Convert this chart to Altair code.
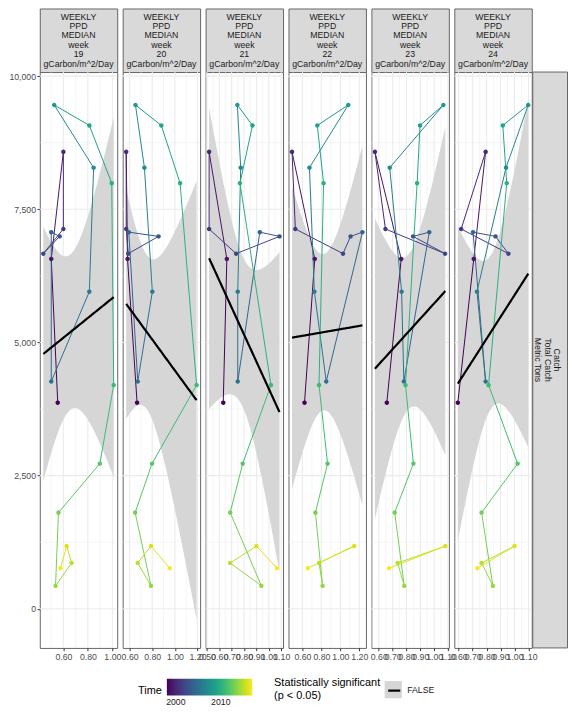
import altair as alt
import numpy as np
import pandas as pd

FONT = "Liberation Sans"

# ---------------- data ----------------
years = list(range(1998, 2018))
catch = [3869, 6568, 8578, 7130, 6667, 6991, 7070, 4266, 5953, 8281,
         9458, 9074, 7990, 4200, 2725, 1806, 430, 860, 1177, 761]

weeks = [19, 20, 21, 22, 23, 24]
ppd_19 = [0.554, 0.501, 0.600, 0.600, 0.436, 0.570, 0.501, 0.501, 0.812, 0.847,
          0.525, 0.812, 0.995, 1.011, 0.898, 0.560, 0.536, 0.667, 0.627, 0.576]
ppd_20 = [0.666, 0.582, 0.570, 0.570, 0.588, 0.856, 0.593, 0.672, 0.801, 0.731,
          0.652, 0.880, 1.046, 1.192, 0.798, 0.649, 0.789, 0.672, 0.789, 0.955]
ppd_21 = [0.632, 0.661, 0.518, 0.518, 0.736, 1.086, 0.927, 0.749, 0.749, 0.773,
          0.746, 0.868, 0.767, 1.017, 0.789, 0.688, 0.940, 0.688, 0.900, 1.065]
ppd_22 = [0.622, 0.730, 0.490, 0.525, 1.028, 1.108, 1.233, 0.851, 0.726, 0.674,
          1.084, 0.757, 0.823, 0.775, 0.865, 0.737, 0.813, 0.775, 1.146, 0.657]
ppd_23 = [0.658, 0.762, 0.572, 0.648, 1.079, 0.848, 0.965, 0.781, 0.765, 0.679,
          1.067, 0.898, 0.877, 0.793, 0.850, 0.715, 0.784, 0.736, 1.081, 0.674]
ppd_24 = [0.594, 0.708, 0.793, 0.618, 0.956, 0.864, 0.703, 0.793, 0.731, 0.939,
          1.098, 0.916, 0.944, 0.814, 1.022, 0.764, 0.845, 0.764, 1.000, 0.734]
ppd = {19: ppd_19, 20: ppd_20, 21: ppd_21, 22: ppd_22, 23: ppd_23, 24: ppd_24}

x_ticks = {
    19: [0.6, 0.8, 1.0],
    20: [0.6, 0.8, 1.0, 1.2],
    21: [0.5, 0.6, 0.7, 0.8, 0.9, 1.0, 1.1],
    22: [0.6, 0.8, 1.0, 1.2],
    23: [0.6, 0.7, 0.8, 0.9, 1.0, 1.1],
    24: [0.6, 0.7, 0.8, 0.9, 1.0, 1.1],
}
x_minor_step = {19: 0.1, 20: 0.1, 21: 0.05, 22: 0.1, 23: 0.05, 24: 0.05}

y_ticks = [0, 2500, 5000, 7500, 10000]
y_minor = [1250, 3750, 6250, 8750]
y_domain = [-735, 10076]

strip_lines = ["WEEKLY", "PPD", "MEDIAN", "week", "{wk}", "gCarbon/m^2/Day"]
row_strip_lines = ["Catch", "Total Catch", "Metric Tons"]
sig_title = ["Statistically significant", "(p < 0.05)"]
sig_levels = ["FALSE"]
T975 = 2.100922  # t quantile, df = 18

# ---------------- sizes ----------------
PW, PH = 78, 580
SH = 64
RSW = 31

BORDER = "#666666"
STRIP_FILL = "#d9d9d9"
GRID = "#ebebeb"
BAND = "#d6d6d6"

color_scale = alt.Scale(scheme="viridis", domain=[1998, 2017])
fill_scale = alt.Scale(domain=sig_levels, range=[BAND])
stroke_scale = alt.Scale(domain=["F"], range=["black"])

time_legend = alt.Legend(
    title="Time", type="gradient", orient="none", legendX=99, legendY=675,
    direction="horizontal", titleOrient="left", titleAnchor="end",
    titleBaseline="bottom", gradientLength=86,
    gradientThickness=17, values=[2000, 2010], format="d",
    labelFontSize=8.8, labelFont=FONT, labelColor="#1a1a1a",
    titleFontSize=11, titleFont=FONT, titleFontWeight="normal",
    titleColor="#000000", gradientStrokeWidth=0, titlePadding=4,
)
fill_legend = alt.Legend(
    title=sig_title, orient="none", legendX=236, legendY=677,
    titleOrient="left", symbolType="square", symbolSize=300,
    symbolOpacity=1, symbolStrokeWidth=0, labelFontSize=8.8,
    labelFont=FONT, labelColor="#1a1a1a", titleFontSize=11, titleFont=FONT,
    titleFontWeight="normal", titleColor="#000000", labelOffset=5,
    titlePadding=4,
)
stroke_legend = alt.Legend(
    title=sig_title, orient="none", legendX=236, legendY=677,
    titleOrient="left", symbolType="M-0.7,0L0.7,0", symbolSize=300,
    symbolStrokeWidth=2.2, labelFontSize=8.8, labelFont=FONT,
    labelColor="transparent", titleFontSize=11, titleFont=FONT,
    titleFontWeight="normal", titleColor="transparent", labelOffset=5,
    titlePadding=4,
)


def panel(i, wk):
    x = np.array(ppd[wk], dtype=float)
    y = np.array(catch, dtype=float)
    lo, hi = float(x.min()), float(x.max())
    r = hi - lo
    dom = [lo - 0.05 * r, hi + 0.05 * r]

    n = len(x)
    xb = x.mean()
    sxx = ((x - xb) ** 2).sum()
    b = ((x - xb) * (y - y.mean())).sum() / sxx
    a = y.mean() - b * xb
    s = np.sqrt(((y - (a + b * x)) ** 2).sum() / (n - 2))
    xs = np.linspace(lo, hi, 80)
    fit = a + b * xs
    se = s * np.sqrt(1.0 / n + (xs - xb) ** 2 / sxx)
    band = pd.DataFrame({"x": xs, "fit": fit, "lo": fit - T975 * se,
                         "hi": fit + T975 * se, "sig": "FALSE", "sig2": "F"})

    pts = pd.DataFrame({"x": x, "y": y, "year": years})
    seg = pd.DataFrame({"x": x[:-1], "y": y[:-1], "x2": x[1:], "y2": y[1:],
                        "year": years[:-1]})

    step = x_minor_step[wk]
    minor = []
    v = np.floor(dom[0] / step) * step
    while v <= dom[1] + 1e-9:
        vv = round(v, 3)
        if vv >= dom[0] and all(abs(vv - t) > 1e-6 for t in x_ticks[wk]):
            minor.append(vv)
        v += step

    xsc = alt.Scale(domain=dom, nice=False, zero=False)
    ysc = alt.Scale(domain=y_domain, nice=False, zero=False)
    xax = alt.Axis(values=x_ticks[wk], format=".2f", grid=False, domain=False,
                   labelFontSize=8.8, labelFont=FONT, labelColor="#4d4d4d",
                   tickColor="#333333", tickSize=2.75, labelPadding=1.5,
                   labelOverlap=False, labelFlush=False, title=None)
    if i == 0:
        yax = alt.Axis(values=y_ticks, format=",.0f", grid=False, domain=False,
                       labelFontSize=8.8, labelFont=FONT, labelColor="#4d4d4d",
                       tickColor="#333333", tickSize=2.75, labelPadding=1.5,
                       title=None)
    else:
        yax = None

    def Y(f):
        return alt.Y(f, scale=ysc, axis=yax) if yax is not None else alt.Y(f, scale=ysc, axis=None)

    def X(f):
        return alt.X(f, scale=xsc, axis=xax)

    gx_major = alt.Chart(pd.DataFrame({"v": x_ticks[wk]})).mark_rule(
        color=GRID, strokeWidth=1.07).encode(x=X("v:Q"))
    gx_minor = alt.Chart(pd.DataFrame({"v": minor})).mark_rule(
        color=GRID, strokeWidth=0.53).encode(x=X("v:Q"))
    gy_major = alt.Chart(pd.DataFrame({"v": y_ticks})).mark_rule(
        color=GRID, strokeWidth=1.07).encode(y=Y("v:Q"))
    gy_minor = alt.Chart(pd.DataFrame({"v": y_minor})).mark_rule(
        color=GRID, strokeWidth=0.53).encode(y=Y("v:Q"))

    area = alt.Chart(band).mark_area(opacity=1, clip=True).encode(
        x=X("x:Q"), y=Y("lo:Q"), y2="hi:Q",
        fill=alt.Fill("sig:N", scale=fill_scale, legend=fill_legend))
    segs = alt.Chart(seg).mark_rule(strokeWidth=1, clip=True).encode(
        x=X("x:Q"), y=Y("y:Q"), x2="x2:Q", y2="y2:Q",
        color=alt.Color("year:Q", scale=color_scale, legend=time_legend))
    dots = alt.Chart(pts).mark_point(filled=False, size=4.5, strokeWidth=2.4,
                                     opacity=1, clip=True).encode(
        x=X("x:Q"), y=Y("y:Q"),
        color=alt.Color("year:Q", scale=color_scale, legend=time_legend))
    reg = alt.Chart(band).mark_line(strokeWidth=2.2, clip=True).encode(
        x=X("x:Q"), y=Y("fit:Q"),
        stroke=alt.Stroke("sig2:N", scale=stroke_scale, legend=stroke_legend))

    return alt.layer(gx_minor, gy_minor, gx_major, gy_major, area, segs, dots, reg).properties(
        width=PW, height=PH,
        view=alt.ViewBackground(fill="white", stroke=BORDER, strokeWidth=1))


def strip(wk):
    txt = "\n".join(l.format(wk=wk) for l in strip_lines)
    return alt.Chart(pd.DataFrame({"t": [txt]})).mark_text(
        lineBreak="\n", fontSize=8.8, font=FONT, color="#1a1a1a",
        lineHeight=9.45, baseline="top", align="center").encode(
        x=alt.value(PW / 2), y=alt.value(4.2), text="t:N").properties(
        width=PW, height=SH,
        view=alt.ViewBackground(fill=STRIP_FILL, stroke=BORDER, strokeWidth=1))


empty = alt.Chart(pd.DataFrame({"a": [0]})).mark_point(opacity=0, size=1).encode(
    x=alt.value(RSW / 2), y=alt.value(SH / 2)).properties(width=RSW, height=SH)

rs_df = pd.DataFrame({"t": ["\n".join(row_strip_lines)]})
rs_rect = alt.Chart(rs_df).mark_rect(fill=STRIP_FILL, stroke=BORDER, strokeWidth=1).encode(
    x=alt.value(-4.5), x2=alt.value(RSW - 0.5), y=alt.value(0), y2=alt.value(PH))
rs_text = alt.Chart(rs_df).mark_text(
    lineBreak="\n", fontSize=8.8, font=FONT, color="#1a1a1a", lineHeight=9.45,
    angle=90, baseline="middle", align="center").encode(
    x=alt.value(20), y=alt.value(PH / 2), text="t:N")
right_strip = alt.layer(rs_rect, rs_text).properties(width=RSW, height=PH)

cells = [strip(w) for w in weeks] + [empty] + [panel(i, w) for i, w in enumerate(weeks)] + [right_strip]

chart = alt.concat(*cells, columns=7, spacing={"row": 0, "column": 5.5},
                   bounds="flush").properties(
    padding={"left": 0, "top": -3, "right": 0, "bottom": 0},
    background="white",
).configure_view(strokeWidth=0).resolve_scale(color="shared", fill="shared", stroke="shared")

chart.save("out.html", embed_options={"renderer": "svg", "actions": False})
